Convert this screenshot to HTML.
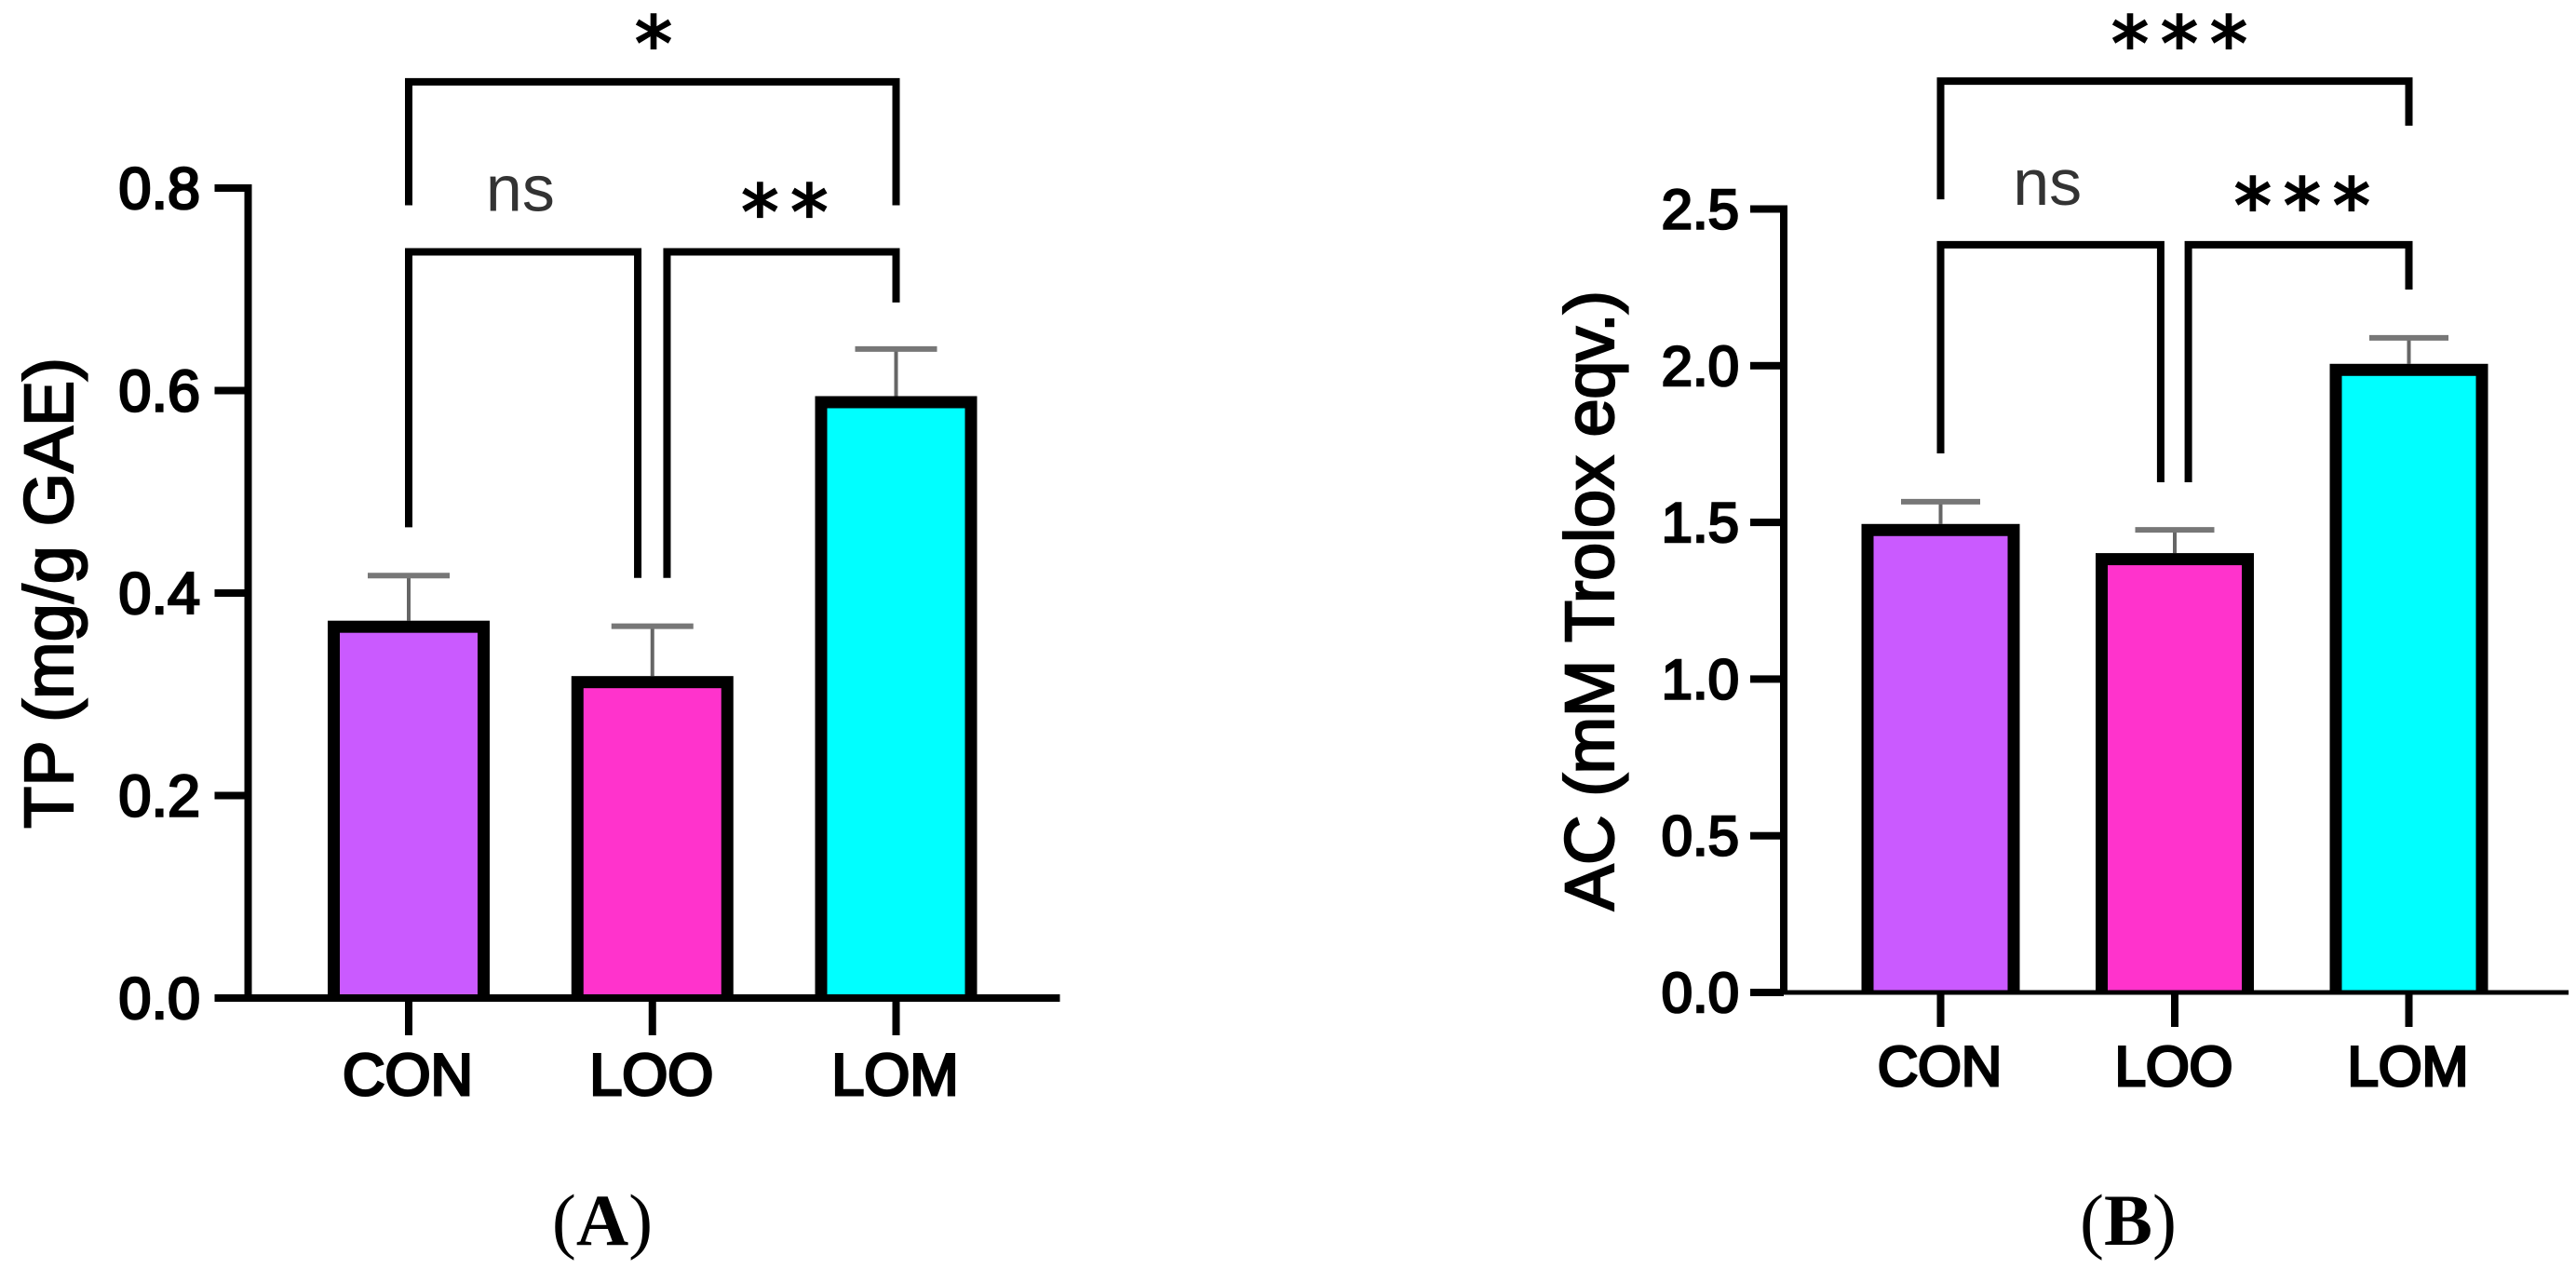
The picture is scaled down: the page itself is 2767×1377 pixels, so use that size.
<!DOCTYPE html>
<html lang="en">
<head>
<meta charset="utf-8">
<title>TP and AC bar charts</title>
<style>
html,body{margin:0;padding:0;background:#fff;width:2767px;height:1377px;overflow:hidden}
svg{display:block}
text{font-family:"Liberation Sans",sans-serif;fill:#000}
</style>
</head>
<body>
<svg id="figure" width="2767" height="1377" viewBox="0 0 2767 1377" xmlns="http://www.w3.org/2000/svg"></svg>
<script>
const categories = ['CON', 'LOO', 'LOM'];
const barColors = ['#CA5AFF', '#FF33CC', '#00FFFF'];

const tpValues = [0.3727, 0.318, 0.5945];
const tpErrorTops = [0.4172, 0.3672, 0.641];
const tpTickValues = [0, 0.2, 0.4, 0.6, 0.8];
const tpTickLabels = ['0.0', '0.2', '0.4', '0.6', '0.8'];

const acValues = [1.495, 1.402, 2.006];
const acErrorTops = [1.566, 1.476, 2.089];
const acTickValues = [0, 0.5, 1.0, 1.5, 2.0, 2.5];
const acTickLabels = ['0.0', '0.5', '1.0', '1.5', '2.0', '2.5'];

const tpBrackets = [
  {from: 0, to: 2, level: 0.905, leftEnd: 0.783, rightEnd: 0.783, label: '*', labelAt: 1.005, labelLevel: 0.9556},
  {from: 0, to: 0.94, level: 0.737, leftEnd: 0.465, rightEnd: 0.415, label: 'ns', labelAt: 0.458, labelLevel: 0.795},
  {from: 1.06, to: 2, level: 0.737, leftEnd: 0.415, rightEnd: 0.687, label: '**', labelAt: 1.543, labelLevel: 0.789}
];
const acBrackets = [
  {from: 0, to: 2, level: 2.908, leftEnd: 2.531, rightEnd: 2.766, label: '***', labelAt: 1.02, labelLevel: 3.069},
  {from: 0, to: 0.94, level: 2.386, leftEnd: 1.72, rightEnd: 1.628, label: 'ns', labelAt: 0.456, labelLevel: 2.570},
  {from: 1.058, to: 2, level: 2.386, leftEnd: 1.628, rightEnd: 2.243, label: '***', labelAt: 1.544, labelLevel: 2.552}
];

const NS = 'http://www.w3.org/2000/svg';
const figure = document.getElementById('figure');

function make(tag, attrs, parent) {
  const node = document.createElementNS(NS, tag);
  for (const key in attrs) node.setAttribute(key, attrs[key]);
  parent.appendChild(node);
  return node;
}

function drawPanel(p) {
  const panel = make('g', {}, figure);
  
  

  const y = v => p.y0 - v * p.yUnit;
  const x = i => p.x0 + i * p.xStep;

  // bars
  p.values.forEach((v, i) => {
    const left = x(i) - p.barW / 2;
    const top = y(v);
    const stem = make('line', {x1: x(i), x2: x(i), y1: y(p.errorTops[i]), y2: top, stroke: '#666', 'stroke-width': 4}, panel);
    
    
    const cap = make('line', {x1: x(i) - p.capW / 2, x2: x(i) + p.capW / 2, y1: y(p.errorTops[i]), y2: y(p.errorTops[i]), stroke: '#777', 'stroke-width': 6}, panel);
    
    
    const outline = make('rect', {x: left, y: top, width: p.barW, height: p.y0 - top, fill: '#000'}, panel);
    
    
    const fill = make('rect', {x: left + 13, y: top + 13, width: p.barW - 26, height: p.y0 - top - 13, fill: barColors[i]}, panel);
    
    
  });

  // y axis
  const yTop = y(p.tickValues[p.tickValues.length - 1]);
  const yAxis = make('rect', {x: p.axisX - 4, y: yTop - 4, width: 8, height: p.y0 - yTop + 4, fill: '#000'}, panel);
  
  

  p.tickValues.forEach((v, i) => {
    const tick = make('rect', {x: p.axisX - 36, y: y(v) - 4, width: 36, height: 8, fill: '#000'}, panel);
    
    
    const label = make('text', {x: p.tickRight, y: y(v) + p.tickBase, 'text-anchor': 'end', 'font-size': p.tickFont, stroke: '#000', 'stroke-width': 2.6}, panel);
    label.textContent = p.tickLabels[i];
    
    
  });

  // x axis
  const xAxis = make('rect', {x: p.axisX - 36, y: p.y0 - p.xAxisT / 2, width: p.xAxisEnd - p.axisX + 36, height: p.xAxisT, fill: '#000'}, panel);
  
  

  categories.forEach((c, i) => {
    const tick = make('rect', {x: x(i) - 4, y: p.y0, width: 8, height: p.tickLen, fill: '#000'}, panel);
    
    
    const label = make('text', {x: x(i) - 1, y: p.y0 + p.catOffset, 'text-anchor': 'middle', 'font-size': p.tickFont, stroke: '#000', 'stroke-width': 3}, panel);
    label.textContent = c;
    
    
  });

  // y title
  const title = make('text', {
    transform: 'translate(' + p.titleX + ',' + p.titleY + ') rotate(-90)',
    'text-anchor': 'middle', 'font-size': p.titleFont, stroke: '#000', 'stroke-width': 2.2,
    textLength: p.titleLen, lengthAdjust: 'spacing'
  }, panel);
  title.textContent = p.title;
  
  

  // significance brackets
  p.brackets.forEach((b, i) => {
    const path = make('path', {
      d: 'M' + x(b.from) + ' ' + y(b.leftEnd) + 'V' + y(b.level) + 'H' + x(b.to) + 'V' + y(b.rightEnd),
      fill: 'none', stroke: '#000', 'stroke-width': 8, 'stroke-linejoin': 'miter'
    }, panel);
    
    
    const isNs = b.label === 'ns';
    const spacing = isNs ? 0 : 13;
    const label = make('text', {
      x: x(b.labelAt) + spacing / 2,
      y: y(b.labelLevel) + (isNs ? 19 : 42),
      'text-anchor': 'middle',
      'font-size': isNs ? 70 : 80,
      'letter-spacing': spacing,
      stroke: isNs ? 'none' : '#000',
      'stroke-width': isNs ? 0 : 2.2,
      style: isNs ? 'font-family:"Liberation Sans",sans-serif;fill:#333' : 'font-family:"DejaVu Sans",sans-serif;fill:#000'
    }, panel);
    label.textContent = b.label;
    
    
  });

  // caption
  const cap = make('text', {x: p.captionX, y: 1337, 'text-anchor': 'middle', 'font-size': 78, style: 'font-family:"Liberation Serif",serif;fill:#000'}, panel);
  
  
  make('tspan', {}, cap).textContent = '(';
  make('tspan', {'font-weight': 'bold'}, cap).textContent = p.captionLetter;
  make('tspan', {}, cap).textContent = ')';
}

drawPanel({
  key: 'tp', values: tpValues, errorTops: tpErrorTops, tickValues: tpTickValues, tickLabels: tpTickLabels, brackets: tpBrackets,
  x0: 439, xStep: 261.75, y0: 1072, yUnit: 1087.5, barW: 174, capW: 88, axisX: 266.5, xAxisEnd: 1138.5, xAxisT: 8,
  tickRight: 215, tickFont: 63, tickBase: 22, tickLen: 40, catOffset: 104,
  title: 'TP (mg/g GAE)', titleX: 78, titleY: 637, titleFont: 74, titleLen: 506,
  captionX: 647, captionLetter: 'A'
});
drawPanel({
  key: 'ac', values: acValues, errorTops: acErrorTops, tickValues: acTickValues, tickLabels: acTickLabels, brackets: acBrackets,
  x0: 2084.5, xStep: 251.5, y0: 1066, yUnit: 336.6, barW: 170, capW: 85, axisX: 1916, xAxisEnd: 2759, xAxisT: 5,
  tickRight: 1868, tickFont: 60, tickBase: 21, tickLen: 37, catOffset: 100,
  title: 'AC (mM Trolox eqv.)', titleX: 1733, titleY: 645, titleFont: 74, titleLen: 666,
  captionX: 2286, captionLetter: 'B'
});
</script>
</body>
</html>
